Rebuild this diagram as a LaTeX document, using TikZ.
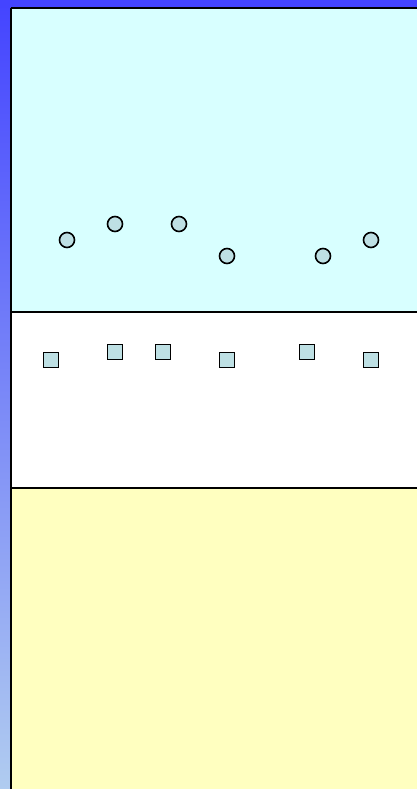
\documentclass[tikz,border=0pt]{standalone}
\begin{document}
\begin{tikzpicture}[x=1pt,y=-1pt,
  dot/.style={circle,draw=black,line width=1.6pt,fill=markfill,minimum size=15pt,inner sep=0pt},
  sq/.style={rectangle,draw=black,line width=1.8pt,fill=markfill,minimum size=15pt,inner sep=0pt},
  sep/.style={draw=black,line width=1.5pt}]
\definecolor{barblue}{RGB}{68,68,255}
\definecolor{barlow}{RGB}{176,204,240}
\definecolor{cyanbg}{RGB}{216,255,255}
\definecolor{yellowbg}{RGB}{255,255,192}
\definecolor{markfill}{RGB}{190,224,228}
\useasboundingbox (0,0) rectangle (417,789);
% background frame
\shade[top color=barblue,bottom color=barlow] (0,0) rectangle (11,789);
\fill[barblue] (0,0) rectangle (417,8);
% panels
\fill[cyanbg] (11,8) rectangle (417,312);
\fill[white] (11,312) rectangle (417,488);
\fill[yellowbg] (11,488) rectangle (417,789);
\draw[sep] (11,8) -- (417,8);
\draw[sep] (11,8) -- (11,789);
\draw[sep] (11,312) -- (417,312);
\draw[sep] (11,488) -- (417,488);
% circles
\node[dot] (c1) at (67,240) {};
\node[dot] (c2) at (115,224) {};
\node[dot] (c3) at (179,224) {};
\node[dot] (c4) at (227,256) {};
\node[dot] (c5) at (323,256) {};
\node[dot] (c6) at (371,240) {};
% squares
\node[sq] (s1) at (51,360) {};
\node[sq] (s2) at (115,352) {};
\node[sq] (s3) at (163,352) {};
\node[sq] (s4) at (227,360) {};
\node[sq] (s5) at (307,352) {};
\node[sq] (s6) at (371,360) {};
\end{tikzpicture}
\end{document}
